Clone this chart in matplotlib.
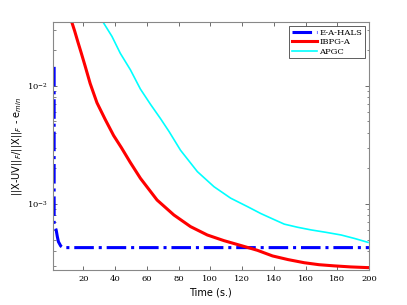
import numpy as np
import matplotlib.pyplot as plt

# Datos
t_hals = [1.5, 1.5, 2.1, 2.8, 3.5, 4.2, 5.7, 7.0, 200]
e_hals = [0.0145, 6.9e-4, 6.4e-4, 6.0e-4, 5.3e-4, 4.79e-4, 4.4e-4, 4.27e-4, 4.27e-4]

t_ibpg = [12.6, 14.5, 16.5, 18.5, 21.0, 24.2, 28.5, 33.7, 39.0, 43.9, 49.5, 55.9, 66.4, 77.0,
          87.5, 98.1, 108.6, 119.2, 129.7, 139.2, 149.0, 159.2, 168.5, 178.2, 188.5, 199.4]
e_ibpg = [0.0348, 0.029, 0.0235, 0.0192, 0.0148, 0.0105, 7.2e-3, 5.2e-3, 3.8e-3, 3.0e-3,
          2.25e-3, 1.65e-3, 1.08e-3, 8.07e-4, 6.43e-4, 5.46e-4, 4.89e-4, 4.45e-4, 4.05e-4,
          3.63e-4, 3.38e-4, 3.18e-4, 3.06e-4, 2.99e-4, 2.93e-4, 2.89e-4]

t_apgc = [32.3, 38.0, 43.2, 49.6, 55.9, 62.2, 68.5, 74.0, 81.2, 91.8, 102.3, 112.8, 123.4,
          131.8, 139.0, 146.6, 155.0, 163.5, 173.0, 182.5, 191.0, 199.4]
e_apgc = [0.0348, 0.0262, 0.0189, 0.01368, 9.4e-3, 7.0e-3, 5.3e-3, 4.1e-3, 2.85e-3,
          1.88e-3, 1.40e-3, 1.12e-3, 9.5e-4, 8.3e-4, 7.5e-4, 6.75e-4, 6.35e-4, 6.03e-4,
          5.75e-4, 5.46e-4, 5.1e-4, 4.73e-4]

xticks = [20, 40, 60, 80, 100, 120, 140, 160, 180, 200]

fig = plt.figure(figsize=(4.07, 3.05), dpi=100)
ax = fig.add_axes([0.1295, 0.1148, 0.777, 0.8132])

ax.semilogy(t_hals, e_hals, color='blue', linestyle='-.', linewidth=2.2, label='E-A-HALS')
ax.semilogy(t_ibpg, e_ibpg, color='red', linewidth=2.2, label='IBPG-A')
ax.semilogy(t_apgc, e_apgc, color='cyan', linewidth=1.2, label='APGC')

ax.set_xlim(0.6, 200)
ax.set_ylim(2.76e-4, 0.0348)
ax.set_xticks(xticks)

serif = 'DejaVu Serif'
for lab in ax.get_xticklabels() + ax.get_yticklabels():
    lab.set_fontfamily(serif)
    lab.set_fontsize(6)

ax.tick_params(which='both', direction='in', top=True, right=True, colors='#555555', labelcolor='black')
ax.tick_params(which='major', length=3, width=0.6)
ax.tick_params(which='minor', length=1.8, width=0.5)
for s in ax.spines.values():
    s.set_color('#888888')
    s.set_linewidth(0.8)

ax.set_xlabel('Time (s.)', fontsize=7, labelpad=3)
ax.set_ylabel('||X-UV||$_F$/||X||$_F$ - e$_{min}$', fontsize=7, labelpad=2)

leg = ax.legend(loc='upper right', prop={'family': serif, 'size': 6}, fancybox=False,
                framealpha=1, edgecolor='#444444', borderpad=0.3, labelspacing=0.2,
                handlelength=3, handletextpad=0.3, borderaxespad=0.5)
leg.get_frame().set_linewidth(0.6)

fig.savefig('out.png', dpi=100)
